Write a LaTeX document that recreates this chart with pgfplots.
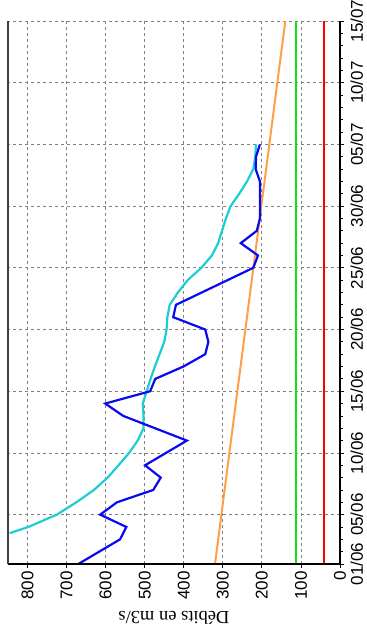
\documentclass[border=0pt]{standalone}
\usepackage{pgfplots}
\pgfplotsset{compat=1.18}
\usepackage{fontspec}
\setmainfont{Liberation Sans}
\newfontfamily\seriffont{Liberation Serif}
\usetikzlibrary{calc}
\definecolor{cyanl}{RGB}{30,205,210}
\definecolor{orangel}{RGB}{255,160,70}
\definecolor{greenl}{RGB}{20,225,20}
\definecolor{redl}{RGB}{250,0,0}
\definecolor{bluel}{RGB}{10,10,240}
\definecolor{gridc}{RGB}{128,128,128}
\begin{document}
\begin{tikzpicture}
\begin{axis}[
  scale only axis, width=332pt, height=543pt,
  x dir=reverse, xmin=0, xmax=850, ymin=0, ymax=44,
  axis line style={draw=none},
  xtick={0,100,...,800},
  ytick={0,4,9,14,19,24,29,34,39,44},
  yticklabels={01/06,05/06,10/06,15/06,20/06,25/06,30/06,05/07,10/07,15/07},
  minor ytick={0,...,44},
  xtick pos=left, ytick pos=right,
  xticklabel pos=left, yticklabel pos=right,
  tick align=outside,
  major tick length=4pt, minor tick length=3pt,
  tick style={black, line width=0.8pt},
  grid=major, grid style={dashed, gridc, line width=0.8pt},
  /pgf/number format/assume math mode=true,
  ticklabel style={font=\fontsize{17}{17}\selectfont},
  xticklabel style={rotate=90, anchor=east},
  yticklabel style={rotate=90, anchor=north},
  yticklabel shift=3pt,
  xlabel={\seriffont\fontsize{18.5}{18.5}\selectfont Débits en m3/s},
  xlabel style={rotate=180, anchor=south},
  xlabel shift=5pt,
  clip=false,
]
\addplot[redl, line width=2pt] coordinates {(42,0) (42,44)};
\addplot[greenl, line width=2pt] coordinates {(112,0) (112,44)};
\addplot[orangel, line width=2pt] coordinates {(320,0) (140,44)};
\addplot[cyanl, line width=2.2pt] coordinates {
(846,2.5) (798,3) (725,4) (675,5) (630,6) (595,7) (567,8) (540,9) (518,10)
(503,11) (503,12) (505,13) (495,14) (485,15) (474,16) (462,17) (450,18)
(444,19) (442,20) (436,21) (415,22) (390,23) (355,24) (328,25) (312,26)
(302,27) (292,28) (280,29) (258,30) (238,31) (222,32) (217,33) (215,34)};
\addplot[bluel, line width=2.2pt] coordinates {
(670,0) (563,2) (547,3) (614,4) (571,5) (478,6) (459,7) (499,8) (392,10)
(555,12) (601,13) (486,14) (473,15) (401,16) (345,17) (337,18) (345,19)
(427,20) (420,21) (222,24) (210,25) (254,26) (213,27) (205,28) (205,29)
(205,31) (216,32) (215,33) (205,34)};
\draw[black, line width=2pt] (axis cs:850,0) -- (axis cs:0,0);
\draw[black, line width=1.8pt] (axis cs:0,0) -- (axis cs:0,44);
\draw[black!75, line width=1.2pt] (axis cs:850,0) -- (axis cs:850,44);
\coordinate (bl) at (axis cs:850,0);
\coordinate (tr) at (axis cs:0,44);
\end{axis}
\pgfresetboundingbox
\path[use as bounding box] ($(bl)+(-8pt,-72pt)$) rectangle ($(tr)+(27pt,21pt)$);
\end{tikzpicture}
\end{document}
